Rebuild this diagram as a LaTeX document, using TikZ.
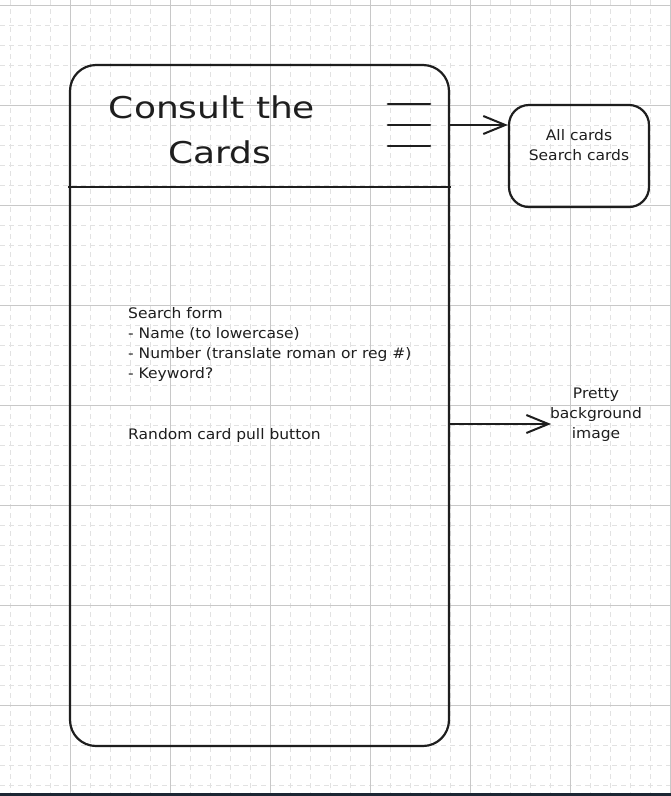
\documentclass[tikz,border=0pt]{standalone}
\usepackage{fontspec}
\setmainfont{DejaVu Sans}
\newfontfamily\handbody[FakeStretch=1.07]{DejaVu Sans}
\newfontfamily\handtitle[FakeStretch=1.2]{DejaVu Sans}
\usetikzlibrary{arrows.meta}
\definecolor{gridminor}{HTML}{E2E2E2}
\definecolor{gridmajor}{HTML}{C8C8C8}
\definecolor{ink}{HTML}{1E1E1E}
\definecolor{strip}{HTML}{1C2633}
\tikzset{
  minorgrid/.style={draw=gridminor, line width=0.8pt, dash pattern=on 5pt off 4pt},
  majorgrid/.style={draw=gridmajor, line width=1pt},
  sketchbox/.style={draw=ink, line width=2.2pt, rectangle, inner sep=0pt},
  handtext/.style={text=ink, font=\handbody\fontsize{14.5}{20}\selectfont, inner sep=0pt},
  sketcharrow/.style={draw=ink, line width=2pt, -{Straight Barb[length=22pt,width=18pt,line width=2pt]}},
  menuline/.style={draw=ink, line width=2.2pt, line cap=round}
}
\begin{document}
\begin{tikzpicture}[x=1pt,y=-1pt]
\useasboundingbox (0,0) rectangle (671,796);
\fill[white] (0,0) rectangle (671,796);
% grid
\foreach \x in {10,30,...,670} \draw[minorgrid] (\x,0) -- (\x,796);
\foreach \y in {5,25,...,795} \draw[minorgrid] (0,\y) -- (671,\y);
\foreach \x in {70,170,...,670} \draw[majorgrid] (\x,0) -- (\x,796);
\foreach \y in {5,105,...,795} \draw[majorgrid] (0,\y) -- (671,\y);
\fill[strip] (0,793) rectangle (671,796);

% phone frame
\node[sketchbox, rounded corners=26pt, minimum width=379pt, minimum height=681pt] (phone) at (259.5,405.5) {};
\coordinate (hl) at (68,187);
\coordinate (hr) at (451,187);
\draw[draw=ink, line width=2.2pt] (hl) -- (hr);

% title
\node[handtext, font=\handtitle\fontsize{30}{45}\selectfont, align=center] (title) at (212,130) {Consult the\\\hspace*{16pt}Cards};

% menu icon
\node[minimum width=42pt, minimum height=42pt, inner sep=0pt] (menu) at (409,125) {};
\draw[menuline] (menu.north west) -- (menu.north east);
\draw[menuline] (menu.west) -- (menu.east);
\draw[menuline] (menu.south west) -- (menu.south east);

% cards box
\node[sketchbox, rounded corners=20pt, minimum width=140pt, minimum height=102pt] (cards) at (579,156) {};
\node[handtext, align=center] (cardstext) at (579,145) {All cards\\Search cards};
\draw[sketcharrow] (phone.east |- menu.east) -- (cards.west |- menu.east);

% form text
\node[handtext, align=left, anchor=north west] (form) at (128,307) {Search form\\- Name (to lowercase)\\- Number (translate roman or reg \#)\\- Keyword?};
\node[handtext, anchor=west] (random) at (128,435) {Random card pull button};

% background arrow
\coordinate (bgend) at (551,424);
\draw[sketcharrow, line width=2.8pt] (phone.east |- bgend) -- (bgend);
\node[handtext, align=center] (pretty) at (596,415) {Pretty\\background\\image};
\end{tikzpicture}
\end{document}
